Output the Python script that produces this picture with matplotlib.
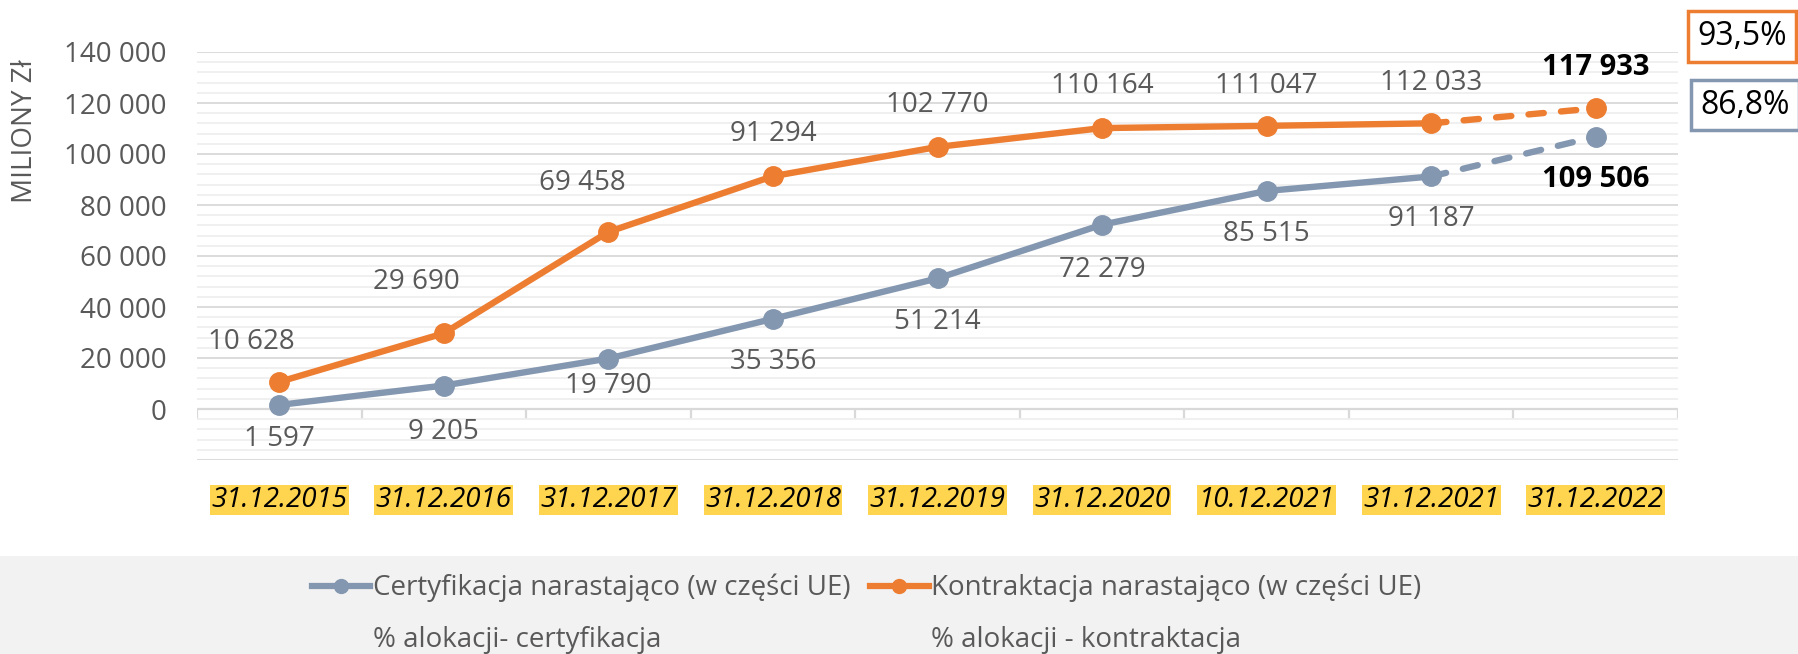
import matplotlib
matplotlib.use("Agg")
import matplotlib.pyplot as plt
import numpy as np
from matplotlib.lines import Line2D
from matplotlib.patches import Rectangle
from matplotlib.ticker import FuncFormatter, MultipleLocator

plt.rcParams["font.family"] = ["Open Sans", "DejaVu Sans"]

dates = ["31.12.2015", "31.12.2016", "31.12.2017", "31.12.2018", "31.12.2019",
         "31.12.2020", "10.12.2021", "31.12.2021", "31.12.2022"]
kontraktacja = [10628, 29690, 69458, 91294, 102770, 110164, 111047, 112033, 117933]
# ostatni punkt certyfikacji narysowany niżej niż jego opis (109 506)
certyfikacja = [1597, 9205, 19790, 35356, 51214, 72279, 85515, 91187, 106800]
last_labels = ["117 933", "109 506"]
pct_kontr = "93,5%"
pct_cert = "86,8%"

ORANGE = "#ED7D31"
BLUE = "#8497B0"
GREY_TXT = "#595959"

# przesunięcia etykiet (px), dx, dy
kontr_off = [(-28, 40), (-27, 51), (-26, 49), (0, 42), (0, 42), (0, 42), (0, 40), (0, 40)]
cert_off = [(0, -34), (0, -46), (0, -27), (0, -43), (0, -44), (0, -45), (0, -43), (0, -43)]


def fmt(v):
    return f"{int(round(v)):,}".replace(",", " ")


fig = plt.figure(figsize=(17.98, 6.54), dpi=100)
fig.add_artist(Rectangle((0, 0), 1, 98 / 654, transform=fig.transFigure,
                         facecolor="#f2f2f2", edgecolor="none", zorder=-5))

ax = fig.add_axes([197 / 1798, 194 / 654, 1481 / 1798, 408 / 654])
x = np.arange(len(dates))

ax.set_xlim(-0.5, len(dates) - 0.5)
ax.set_ylim(-20000, 140000)
ax.yaxis.set_major_locator(MultipleLocator(20000))
ax.yaxis.set_minor_locator(MultipleLocator(4000))
ax.yaxis.set_major_formatter(FuncFormatter(lambda v, p: fmt(v) if v >= 0 else ""))
ax.grid(axis="y", which="major", color="#d9d9d9", lw=1.3, zorder=0)
ax.grid(axis="y", which="minor", color="#efefef", lw=1.3, zorder=0)
ax.tick_params(axis="y", which="both", length=0, pad=22, labelsize=20, labelcolor=GREY_TXT)
ax.set_xticks([])
for s in ax.spines.values():
    s.set_visible(False)

# oś X na poziomie 0 z kreskami między kategoriami
ax.axhline(0, color="#d9d9d9", lw=1.6, zorder=1)
ax.vlines(np.arange(len(dates) + 1) - 0.5, -3900, 0, color="#d9d9d9", lw=1.6, zorder=1)

for vals, col in [(certyfikacja, BLUE), (kontraktacja, ORANGE)]:
    ax.plot(x[:8], vals[:8], color=col, lw=4.6, marker="o", ms=14, zorder=3,
            solid_capstyle="round")
    ax.plot(x[7:], vals[7:], color=col, lw=4.6, ls=(0, (2.4, 2.7)), zorder=3,
            dash_capstyle="round")
    ax.plot(x[8:], vals[8:], color=col, lw=0, marker="o", ms=14, zorder=4)

for i in range(8):
    ax.annotate(fmt(kontraktacja[i]), (x[i], kontraktacja[i]), xytext=kontr_off[i],
                textcoords="offset pixels", ha="center", va="center",
                fontsize=20, color=GREY_TXT)
    ax.annotate(fmt(certyfikacja[i]), (x[i], certyfikacja[i]), xytext=cert_off[i],
                textcoords="offset pixels", ha="center", va="center",
                fontsize=20, color=GREY_TXT)

ax.annotate(last_labels[0], (x[8], kontraktacja[8]), xytext=(0, 41),
            textcoords="offset pixels", ha="center", va="center",
            fontsize=21, fontweight="bold", color="black")
ax.annotate(last_labels[1], (x[8], certyfikacja[8]), xytext=(0, -43),
            textcoords="offset pixels", ha="center", va="center",
            fontsize=21, fontweight="bold", color="black")

for i, d in enumerate(dates):
    ax.text(x[i], -40 / 408, d, transform=ax.get_xaxis_transform(), ha="center", va="center",
            fontsize=20, style="italic", color="black",
            bbox=dict(boxstyle="square,pad=0.05", fc="#FFD550", ec="none"))

fig.text(25 / 1798, 1 - 131 / 654, "MILIONY Zł", rotation=90, ha="center", va="center",
         fontsize=20, color=GREY_TXT)

fig.text(1742 / 1798, 1 - 36.5 / 654, pct_kontr, ha="center", va="center", fontsize=23,
         color="black", bbox=dict(boxstyle="square,pad=0.28", fc="white", ec=ORANGE, lw=2.5))
fig.text(1745 / 1798, 1 - 105 / 654, pct_cert, ha="center", va="center", fontsize=23,
         color="black", bbox=dict(boxstyle="square,pad=0.28", fc="white", ec=BLUE, lw=2.5))

handles = [
    Line2D([], [], color=BLUE, lw=4.5, marker="o", ms=10),
    Line2D([], [], color="none"),
    Line2D([], [], color=ORANGE, lw=4.5, marker="o", ms=10),
    Line2D([], [], color="none"),
]
labels = ["Certyfikacja narastająco (w części UE)", "% alokacji- certyfikacja",
          "Kontraktacja narastająco (w części UE)", "% alokacji - kontraktacja"]
fig.legend(handles, labels, ncol=2, loc="upper left", bbox_to_anchor=(312 / 1798, 1 - 574 / 654),
           frameon=False, fontsize=20, labelcolor=GREY_TXT, handlelength=2.1,
           handletextpad=0.1, columnspacing=0.7, labelspacing=0.85,
           borderpad=0, borderaxespad=0)

fig.savefig("out.png", dpi=100)
